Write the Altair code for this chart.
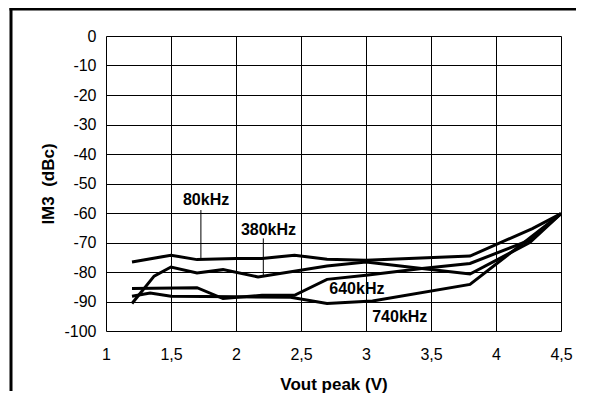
import altair as alt
import pandas as pd

# ---- data ----
x_80 = [1.2, 1.5, 1.7, 2.0, 2.2, 2.45, 2.7, 3.0, 3.8, 4.28, 4.5]
y_80 = [-76.6, -74.3, -75.8, -75.4, -75.4, -74.3, -75.7, -76.0, -74.6, -65.3, -60.2]

x_380 = [1.2, 1.37, 1.5, 1.7, 1.9, 2.17, 2.7, 3.0, 3.43, 3.8, 4.26, 4.5]
y_380 = [-90.7, -81.4, -78.3, -80.3, -79.2, -81.7, -78.0, -76.6, -78.8, -80.7, -70.0, -60.2]

x_640 = [1.2, 1.7, 1.9, 2.2, 2.45, 2.7, 3.0, 3.43, 3.8, 4.26, 4.5]
y_640 = [-85.6, -85.3, -89.0, -87.9, -87.9, -82.5, -81.1, -78.8, -77.1, -69.2, -60.2]

x_740 = [1.2, 1.34, 1.5, 2.0, 2.42, 2.7, 3.05, 3.8, 4.5]
y_740 = [-88.2, -87.1, -88.2, -88.4, -88.6, -90.7, -89.8, -84.2, -60.2]

series_names = ["80kHz", "380kHz", "640kHz", "740kHz"]

label_text = ["80kHz", "380kHz", "640kHz", "740kHz"]
label_x = [1.77, 2.25, 2.93, 3.26]
label_y = [-55.6, -65.6, -85.6, -95.2]

pointer_x = [1.73, 2.21]
pointer_y1 = [-59.0, -68.6]
pointer_y2 = [-75.4, -81.4]

x_ticks = [1, 1.5, 2, 2.5, 3, 3.5, 4, 4.5]
y_ticks = [-100, -90, -80, -70, -60, -50, -40, -30, -20, -10, 0]

# ---- tables ----
rows = []
for name, xs, ys in zip(series_names, [x_80, x_380, x_640, x_740], [y_80, y_380, y_640, y_740]):
    for i, (a, b) in enumerate(zip(xs, ys)):
        rows.append({"series": name, "order": i, "x": a, "y": b})
lines_df = pd.DataFrame(rows)
labels_df = pd.DataFrame({"label": label_text, "x": label_x, "y": label_y})
pointers_df = pd.DataFrame({"x": pointer_x, "y": pointer_y1, "y2": pointer_y2})

FONT = "Liberation Sans"

xscale = alt.Scale(domain=[1, 4.5], nice=False, zero=False)
yscale = alt.Scale(domain=[-100, 0], nice=False, zero=False)

xaxis = alt.Axis(
    values=x_ticks,
    labelExpr="replace(toString(datum.value), '.', ',')",
    title="Vout peak (V)",
    titleFont=FONT, titleFontSize=17, titleFontWeight="bold", titleColor="black",
    titleBaseline="alphabetic", titleY=58,
    labelFont=FONT, labelFontSize=16, labelColor="black", labelPadding=15,
    ticks=False, tickSize=0, domain=False, labelOverlap=False,
    grid=True, gridColor="black", gridWidth=1, gridOpacity=1,
    labelFlush=False,
)
yaxis = alt.Axis(
    values=y_ticks,
    labelExpr="toString(datum.value)",
    title="IM3\u00a0 (dBc)",
    titleFont=FONT, titleFontSize=17, titleFontWeight="bold", titleColor="black",
    titleBaseline="alphabetic", titleX=-53, titleAngle=-90,
    labelFont=FONT, labelFontSize=16, labelColor="black", labelPadding=10,
    ticks=False, tickSize=0, domain=False, labelOverlap=False,
    grid=True, gridColor="black", gridWidth=1, gridOpacity=1,
    labelFlush=False,
)

X = alt.X("x:Q", scale=xscale, axis=xaxis)
Y = alt.Y("y:Q", scale=yscale, axis=yaxis)

lines = alt.Chart(lines_df).mark_line(color="black", strokeWidth=3, strokeJoin="miter").encode(
    x=X, y=Y, detail="series:N", order="order:Q",
)

pointers = alt.Chart(pointers_df).mark_rule(color="black", strokeWidth=1).encode(
    x=X, y=Y, y2="y2:Q"
)

labels = alt.Chart(labels_df).mark_text(
    font=FONT, fontSize=16, fontWeight="bold", color="black", align="center", baseline="middle"
).encode(x=X, y=Y, text="label:N")

one = pd.DataFrame({"a": [0]})
frame_top = alt.Chart(one).mark_rule(color="black", strokeWidth=3).encode(
    x=alt.value(-96.5), x2=alt.value(470), y=alt.value(-27)
)
frame_left = alt.Chart(one).mark_rule(color="black", strokeWidth=3).encode(
    x=alt.value(-95), y=alt.value(-28.5), y2=alt.value(355)
)

chart = alt.layer(lines, pointers, labels, frame_top, frame_left).properties(
    width=455, height=295,
    autosize=alt.AutoSizeParams(type="none"),
    padding={"left": 98, "top": 28, "right": 20, "bottom": 65},
).configure_view(
    stroke="black", strokeWidth=1.5
).configure(background="white")

chart.save("out.html", embed_options={"renderer": "svg", "actions": False})
